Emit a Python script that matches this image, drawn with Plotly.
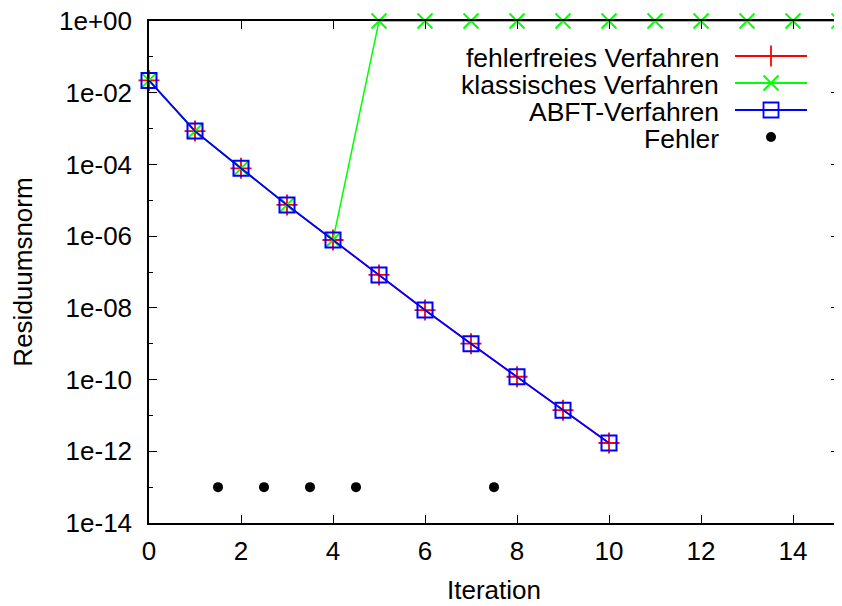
import plotly.graph_objects as go

# ---------------- data ----------------
iterations = [0, 1, 2, 3, 4, 5, 6, 7, 8, 9, 10]
residual_fehlerfrei = [2.2e-2, 8.5e-4, 7.8e-5, 7.4e-6, 7.8e-7, 8.3e-8, 8.7e-9, 1.0e-9, 1.2e-10, 1.4e-11, 1.7e-12]

iterations_klassisch = [0, 1, 2, 3, 4, 5, 6, 7, 8, 9, 10, 11, 12, 13, 14, 15]
residual_klassisch = [2.2e-2, 8.5e-4, 7.8e-5, 7.4e-6, 7.8e-7, 1, 1, 1, 1, 1, 1, 1, 1, 1, 1, 1]

iterations_abft = [0, 1, 2, 3, 4, 5, 6, 7, 8, 9, 10]
residual_abft = [2.2e-2, 8.5e-4, 7.8e-5, 7.4e-6, 7.8e-7, 8.3e-8, 8.7e-9, 1.0e-9, 1.2e-10, 1.4e-11, 1.7e-12]

fehler_x = [1.5, 2.5, 3.5, 4.5, 7.5]
fehler_y = [1e-13, 1e-13, 1e-13, 1e-13, 1e-13]

x_ticks = [0, 2, 4, 6, 8, 10, 12, 14]
y_tickvals = [1e0, 1e-2, 1e-4, 1e-6, 1e-8, 1e-10, 1e-12, 1e-14]
y_ticktext = ["1e+00", "1e-02", "1e-04", "1e-06", "1e-08", "1e-10", "1e-12", "1e-14"]
y_minor = [1e-1, 1e-3, 1e-5, 1e-7, 1e-9, 1e-11, 1e-13]

legend_labels = ["fehlerfreies Verfahren", "klassisches Verfahren", "ABFT-Verfahren", "Fehler"]

# ---------------- style ----------------
RED, GREEN, BLUE = "#ff0000", "#00ff00", "#0000ff"
FONT = "Liberation Sans, Arial, Helvetica, sans-serif"
FS = 26
FS_LEG = 26.5
# page has an 8px body margin -> compensate so the plot lands where the reference has it
OFF = 8
W, H = 842 - OFF, 606 - OFF
L, R, T, B = 149 - OFF, 3, 21 - OFF, 83

fig = go.Figure()

fig.add_trace(go.Scatter(
    x=iterations, y=residual_fehlerfrei, mode="lines+markers",
    line=dict(color=RED, width=1.5),
    marker=dict(symbol="cross-thin", size=15, line=dict(color=RED, width=1.8)),
    cliponaxis=False, showlegend=False))
fig.add_trace(go.Scatter(
    x=iterations_klassisch, y=residual_klassisch, mode="lines+markers",
    line=dict(color=GREEN, width=1.5),
    marker=dict(symbol="x-thin", size=15, line=dict(color=GREEN, width=1.8)),
    cliponaxis=False, showlegend=False))
fig.add_trace(go.Scatter(
    x=iterations_abft, y=residual_abft, mode="lines+markers",
    line=dict(color=BLUE, width=1.8),
    marker=dict(symbol="square-open", size=15, color=BLUE, line=dict(color=BLUE, width=2)),
    cliponaxis=False, showlegend=False))
fig.add_trace(go.Scatter(
    x=fehler_x, y=fehler_y, mode="markers",
    marker=dict(symbol="circle", size=10, color="black"),
    cliponaxis=False, showlegend=False))

# ---------------- gnuplot-style legend (overlay axes in reference-pixel units) ----------------
leg_rows = [56, 83, 110, 137]
leg_text_x = 721
leg_text_dy = 2
leg_line = [735, 807]
leg_mark_x = 771
samples = [
    dict(color=RED, symbol="cross-thin", size=15, line=True),
    dict(color=GREEN, symbol="x-thin", size=15, line=True),
    dict(color=BLUE, symbol="square-open", size=15, line=True),
    dict(color="black", symbol="circle", size=10, line=False),
]
for lab, yy, s in zip(legend_labels, leg_rows, samples):
    if s["line"]:
        fig.add_trace(go.Scatter(
            x=leg_line, y=[yy, yy], mode="lines", xaxis="x2", yaxis="y2",
            line=dict(color=s["color"], width=1.8), hoverinfo="skip", showlegend=False))
    fig.add_trace(go.Scatter(
        x=[leg_mark_x], y=[yy], mode="markers", xaxis="x2", yaxis="y2",
        marker=dict(symbol=s["symbol"], size=s["size"], color=s["color"],
                    line=dict(color=s["color"], width=1.8 if s["line"] else 0)),
        hoverinfo="skip", showlegend=False, cliponaxis=False))
    fig.add_annotation(x=leg_text_x, y=yy + leg_text_dy, xref="x2", yref="y2", text=lab,
                       showarrow=False, xanchor="right", yanchor="middle",
                       font=dict(family=FONT, size=FS_LEG, color="black"))

axis_common = dict(
    showgrid=False, zeroline=False, showline=True, linecolor="black", linewidth=1.5,
    mirror="ticks", ticks="inside", ticklen=8, tickwidth=1.2, tickcolor="black",
    tickfont=dict(family=FONT, size=FS, color="black"),
    ticklabeloverflow="allow", automargin=False,
)

fig.update_layout(
    width=W, height=H,
    margin=dict(l=L, r=R, t=T, b=B, autoexpand=False),
    paper_bgcolor="white", plot_bgcolor="white",
    font=dict(family=FONT, size=FS, color="black"),
    xaxis=dict(
        range=[0, 15], tickmode="array", tickvals=x_ticks,
        title=dict(text="Iteration", font=dict(family=FONT, size=FS), standoff=16),
        ticklabelstandoff=4,
        **axis_common),
    yaxis=dict(
        type="log", range=[-14, 0], tickmode="array",
        tickvals=y_tickvals, ticktext=y_ticktext,
        minor=dict(tickmode="array", tickvals=y_minor, ticks="inside", ticklen=4,
                   tickwidth=1.2, tickcolor="black", showgrid=False),
        title=dict(text="Residuumsnorm", font=dict(family=FONT, size=FS), standoff=28),
        ticklabelstandoff=10,
        **axis_common),
    xaxis2=dict(overlaying="x", anchor="y2", range=[149, 839], visible=False,
                fixedrange=True, automargin=False),
    yaxis2=dict(overlaying="y", anchor="x2", range=[523, 21], visible=False,
                fixedrange=True, automargin=False),
)

fig.write_html("out.html")
